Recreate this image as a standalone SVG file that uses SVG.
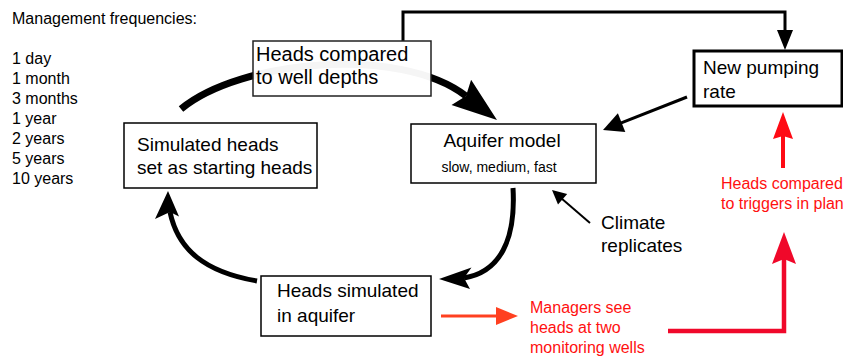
<svg xmlns="http://www.w3.org/2000/svg" width="843" height="360" viewBox="0 0 843 360">
<style>
text{font-family:"Liberation Sans",Arial,sans-serif;fill:#000}
.box{fill:#fff;stroke:#000;stroke-width:1.5}
.big{font-size:19px}
.small{font-size:16px}
.red{fill:#ff1010}
.curve{fill:none;stroke:#000;stroke-linecap:butt}
.head{fill:#000}
</style>
<rect width="843" height="360" fill="#fff"/>
<g id="frequencies">
<text class="small" x="12" y="24">Management frequencies:</text>
<text class="small" x="12" y="64">1 day</text>
<text class="small" x="12" y="84">1 month</text>
<text class="small" x="12" y="104">3 months</text>
<text class="small" x="12" y="124">1 year</text>
<text class="small" x="12" y="144">2 years</text>
<text class="small" x="12" y="164">5 years</text>
<text class="small" x="12" y="184">10 years</text>
</g>
<g id="connectors">
<path class="curve" stroke-width="7" d="M181,109 C240,60 400,45 466,96"/>
<polygon class="head" points="497,120 451.5,104.9 466,96 471.1,79.7"/>
<path class="curve" stroke-width="5" d="M513,188 C516,240 500,272 464,278"/>
<polygon class="head" points="439,279 471.5,267.5 464,278 470,289"/>
<path class="curve" stroke-width="5" d="M257,281 C205,272 178,250 170,212"/>
<polygon class="head" points="168,191 179,216.5 170,212 155,219"/>
<path class="curve" stroke-width="3" d="M403,41 V12 H785 V32"/>
<polygon class="head" points="785,50 777,30 793,30"/>
<line x1="687" y1="97" x2="620" y2="123.3" stroke="#000" stroke-width="3"/>
<polygon class="head" points="603,130 625.3,131.9 617.9,113.3"/>
<line x1="590" y1="223" x2="561" y2="198" stroke="#000" stroke-width="2"/>
<polygon class="head" points="552,190 567.2,193.9 558,204.5"/>
<line x1="441" y1="316" x2="498" y2="316" stroke="#ff4020" stroke-width="3"/>
<polygon points="518,316 496,307 496,325" fill="#ff4020"/>
<path d="M668,331 H784 V259" fill="none" stroke="#f0082a" stroke-width="4.5"/>
<polygon points="784,232 796,264 784,259 772,264" fill="#f0082a"/>
<line x1="783" y1="168" x2="783" y2="134" stroke="#ff0a14" stroke-width="4"/>
<polygon points="783,112 793,139 783,136 773,139" fill="#ff0a14"/>
</g>
<g id="heads-compared-well-depths">
<rect x="253" y="41" width="178" height="55" fill="#fff" fill-opacity="0.96" stroke="#222" stroke-width="1.5"/>
<text x="256" y="61" style="font-size:20px">Heads compared</text>
<text x="256" y="84" style="font-size:20px">to well depths</text>
</g>
<g id="new-pumping-rate">
<rect x="694" y="51" width="148" height="55" fill="#fff" stroke="#000" stroke-width="3"/>
<text class="big" x="703" y="74">New pumping</text>
<text class="big" x="703" y="98">rate</text>
</g>
<g id="aquifer-model">
<rect class="box" x="411" y="124" width="185" height="59"/>
<text class="big" x="502" y="147" text-anchor="middle">Aquifer model</text>
<text x="499" y="172" text-anchor="middle" style="font-size:14px">slow, medium, fast</text>
</g>
<g id="simulated-heads">
<rect class="box" x="124" y="123" width="193" height="65"/>
<text class="big" x="137" y="151">Simulated heads</text>
<text class="big" x="137" y="174">set as starting heads</text>
</g>
<g id="heads-simulated">
<rect class="box" x="261" y="276" width="170" height="60" stroke-width="2"/>
<text class="big" x="277" y="297">Heads simulated</text>
<text class="big" x="277" y="322">in aquifer</text>
</g>
<g id="climate-replicates">
<text class="big" x="601" y="229">Climate</text>
<text class="big" x="601" y="252">replicates</text>
</g>
<g id="managers-see">
<text class="small red" x="530" y="313">Managers see</text>
<text class="small red" x="530" y="333">heads at two</text>
<text class="small red" x="530" y="353">monitoring wells</text>
</g>
<g id="heads-compared-triggers">
<text class="small red" x="721" y="189">Heads compared</text>
<text class="small red" x="721" y="209">to triggers in plan</text>
</g>
</svg>
